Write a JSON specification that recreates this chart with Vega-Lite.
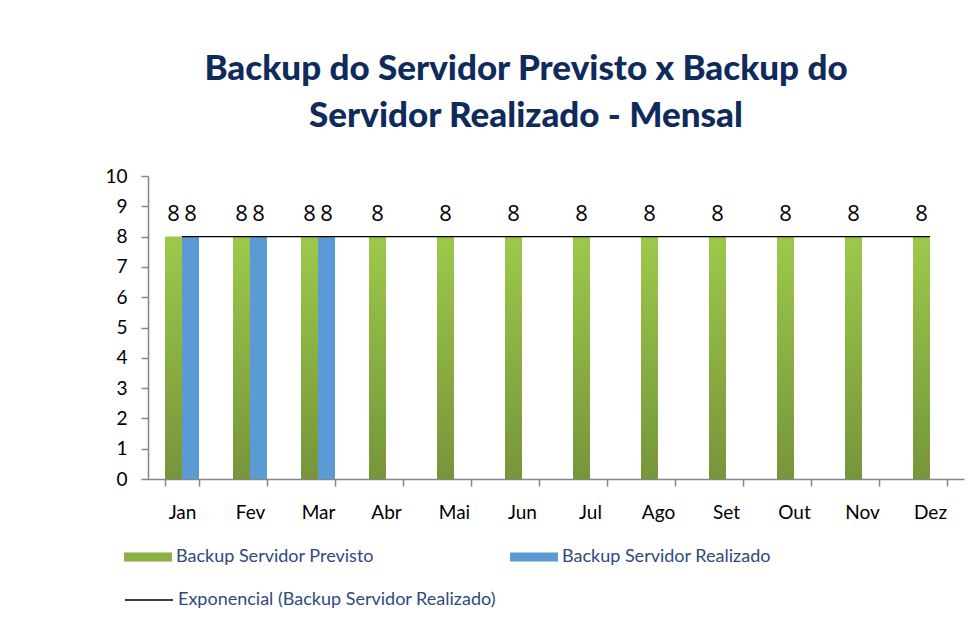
{
  "$schema": "https://vega.github.io/schema/vega-lite/v6.json",
  "autosize": "none",
  "width": 816,
  "height": 303,
  "padding": {"left": 148, "top": 176, "right": 16, "bottom": 144},
  "background": "white",
  "title": {
    "text": ["Backup do Servidor Previsto x Backup do", "Servidor Realizado - Mensal"],
    "font": "Lato",
    "fontSize": 35,
    "fontWeight": 900,
    "color": "#0F2B5B",
    "lineHeight": 47,
    "anchor": "middle",
    "dx": -30,
    "offset": 33
  },
  "datasets": {
    "bars": [
      {"mes": "Jan", "serie": "Backup Servidor Previsto", "valor": 8},
      {"mes": "Jan", "serie": "Backup Servidor Realizado", "valor": 8},
      {"mes": "Fev", "serie": "Backup Servidor Previsto", "valor": 8},
      {"mes": "Fev", "serie": "Backup Servidor Realizado", "valor": 8},
      {"mes": "Mar", "serie": "Backup Servidor Previsto", "valor": 8},
      {"mes": "Mar", "serie": "Backup Servidor Realizado", "valor": 8},
      {"mes": "Abr", "serie": "Backup Servidor Previsto", "valor": 8},
      {"mes": "Mai", "serie": "Backup Servidor Previsto", "valor": 8},
      {"mes": "Jun", "serie": "Backup Servidor Previsto", "valor": 8},
      {"mes": "Jul", "serie": "Backup Servidor Previsto", "valor": 8},
      {"mes": "Ago", "serie": "Backup Servidor Previsto", "valor": 8},
      {"mes": "Set", "serie": "Backup Servidor Previsto", "valor": 8},
      {"mes": "Out", "serie": "Backup Servidor Previsto", "valor": 8},
      {"mes": "Nov", "serie": "Backup Servidor Previsto", "valor": 8},
      {"mes": "Dez", "serie": "Backup Servidor Previsto", "valor": 8}
    ],
    "trend": [
      {"mes": "Jan", "serie": "Exponencial (Backup Servidor Realizado)", "valor": 8},
      {"mes": "Fev", "serie": "Exponencial (Backup Servidor Realizado)", "valor": 8},
      {"mes": "Mar", "serie": "Exponencial (Backup Servidor Realizado)", "valor": 8},
      {"mes": "Abr", "serie": "Exponencial (Backup Servidor Realizado)", "valor": 8},
      {"mes": "Mai", "serie": "Exponencial (Backup Servidor Realizado)", "valor": 8},
      {"mes": "Jun", "serie": "Exponencial (Backup Servidor Realizado)", "valor": 8},
      {"mes": "Jul", "serie": "Exponencial (Backup Servidor Realizado)", "valor": 8},
      {"mes": "Ago", "serie": "Exponencial (Backup Servidor Realizado)", "valor": 8},
      {"mes": "Set", "serie": "Exponencial (Backup Servidor Realizado)", "valor": 8},
      {"mes": "Out", "serie": "Exponencial (Backup Servidor Realizado)", "valor": 8},
      {"mes": "Nov", "serie": "Exponencial (Backup Servidor Realizado)", "valor": 8},
      {"mes": "Dez", "serie": "Exponencial (Backup Servidor Realizado)", "valor": 8}
    ]
  },
  "encoding": {
    "x": {
      "field": "mes",
      "type": "nominal",
      "sort": ["Jan", "Fev", "Mar", "Abr", "Mai", "Jun", "Jul", "Ago", "Set", "Out", "Nov", "Dez"],
      "scale": {"domain": ["Jan", "Fev", "Mar", "Abr", "Mai", "Jun", "Jul", "Ago", "Set", "Out", "Nov", "Dez"], "paddingInner": 0.5, "paddingOuter": 0.25},
      "axis": {
        "title": null,
        "labelAngle": 0,
        "tickBand": "extent",
        "labelFont": "Lato",
        "labelFontSize": 19,
        "labelColor": "#000000",
        "labelPadding": 17,
        "tickSize": 7,
        "tickColor": "#868686",
        "domainColor": "#868686",
        "domainWidth": 1.5,
        "tickWidth": 1.5
      }
    },
    "y": {
      "field": "valor",
      "type": "quantitative",
      "scale": {"domain": [0, 10], "nice": false},
      "axis": {
        "title": null,
        "values": [0, 1, 2, 3, 4, 5, 6, 7, 8, 9, 10],
        "grid": false,
        "labelFont": "Lato",
        "labelFontSize": 19,
        "labelColor": "#000000",
        "labelPadding": 14,
        "tickSize": 7,
        "tickColor": "#868686",
        "domainColor": "#868686",
        "domainWidth": 1.5,
        "tickWidth": 1.5
      }
    }
  },
  "layer": [
    {
      "data": {"name": "bars"},
      "mark": {"type": "bar"},
      "encoding": {
        "xOffset": {"field": "serie", "type": "nominal", "scale": {"domain": ["Backup Servidor Previsto", "Backup Servidor Realizado"]}},
        "color": {
          "condition": {
            "test": "datum.serie === 'Backup Servidor Previsto'",
            "value": {"gradient": "linear", "x1": 0, "y1": 0, "x2": 0, "y2": 1, "stops": [{"offset": 0, "color": "#9DC84A"}, {"offset": 1, "color": "#76953A"}]}
          },
          "field": "serie",
          "type": "nominal",
          "scale": {
            "domain": ["Backup Servidor Previsto", "Backup Servidor Realizado"],
            "range": ["#8BB043", "#5B9BD5"]
          },
          "legend": {
            "title": null,
            "orient": "none",
            "legendX": -24,
            "legendY": 357,
            "columns": 2,
            "columnPadding": 136,
            "symbolType": "M-1,-0.1875H1V0.1875H-1Z",
            "symbolSize": 2304,
            "symbolStrokeWidth": 0,
            "labelFont": "Lato",
            "labelFontSize": 18,
            "labelColor": "#2E4A7D",
            "labelOffset": 4,
            "labelLimit": 400
          }
        }
      }
    },
    {
      "data": {"name": "bars"},
      "mark": {"type": "text", "font": "Open Sans", "fontSize": 22, "color": "#000000", "baseline": "bottom", "dy": -11},
      "encoding": {
        "xOffset": {"field": "serie", "type": "nominal", "scale": {"domain": ["Backup Servidor Previsto", "Backup Servidor Realizado"]}},
        "text": {"field": "valor", "type": "quantitative"}
      }
    },
    {
      "data": {"name": "trend"},
      "mark": {"type": "line", "strokeWidth": 1.3},
      "encoding": {
        "stroke": {
          "field": "serie",
          "type": "nominal",
          "scale": {"range": ["#000000"]},
          "legend": {
            "title": null,
            "orient": "none",
            "legendX": -24,
            "legendY": 399,
            "symbolType": "stroke",
            "symbolSize": 2304,
            "symbolStrokeWidth": 1.5,
            "symbolStrokeColor": "#404040",
            "labelFont": "Lato",
            "labelFontSize": 18,
            "labelColor": "#2E4A7D",
            "labelOffset": 4,
            "labelLimit": 400
          }
        }
      }
    }
  ],
  "config": {
    "view": {"stroke": null}
  }
}
